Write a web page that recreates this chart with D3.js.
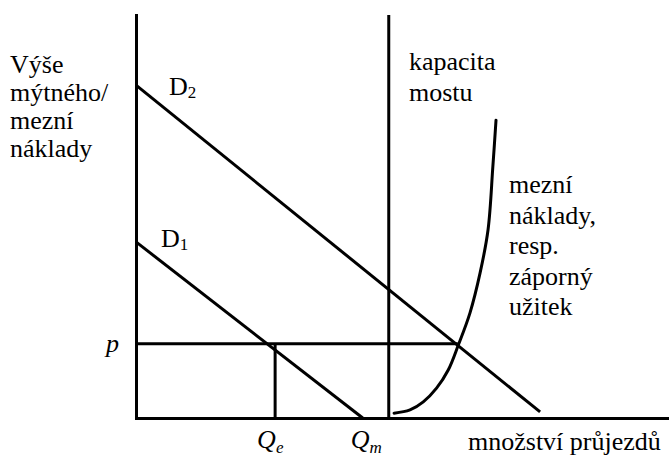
<!DOCTYPE html>
<html>
<head>
<meta charset="utf-8">
<script src="https://cdn.jsdelivr.net/npm/d3@7"></script>
</head>
<body style="margin:0">
<div class="svg-container"></div>
<script>
// data (units 0..100 on both axes)
const demand2 = [[0, 82.6], [76.1, 1.5]];
const demand1 = [[0, 43.7], [42.7, 0]];
const priceP = 18.4;
const priceLineEnd = 60.6;
const qE = 26.2;
const qM = 47.6;
const marginalCost = [
  [48.6, 1.2], [51.6, 2.0], [54.1, 4.0], [56.6, 7.4], [58.8, 11.9],
  [60.7, 18.1], [62.9, 26.1], [64.8, 36.0], [66.3, 46.7], [67.2, 62.3], [67.8, 73.9]
];
const yLabelLines = ['Výše', 'mýtného/', 'mezní', 'náklady'];
const capacityLines = ['kapacita', 'mostu'];
const costLines = ['mezní', 'náklady,', 'resp.', 'záporný', 'užitek'];
const xTitle = 'množství průjezdů';

const renderChart = () => {
  const width = 670;
  const height = 457;
  const lineW = 3;
  const fontSize = 26;

  const svg = d3.select('.svg-container')
    .append('svg')
    .attr('width', width)
    .attr('height', height);

  const x = d3.scaleLinear().domain([0, 100]).range([136, 667]);
  const y = d3.scaleLinear().domain([0, 100]).range([418, 15]);

  const line = d3.line().x(d => x(d[0])).y(d => y(d[1]));

  // axes (no ticks, only the lines; labels handled below)
  const xAxis = svg.append('g')
    .attr('transform', `translate(0,${y(0)})`)
    .call(d3.axisBottom(x).tickValues([]).tickSizeOuter(0));
  const yAxis = svg.append('g')
    .attr('transform', `translate(${x(0)},0)`)
    .call(d3.axisLeft(y).tickValues([]).tickSizeOuter(0));
  [xAxis, yAxis].forEach(a => a.select('.domain')
    .attr('stroke', '#000')
    .attr('stroke-width', lineW)
    .attr('stroke-linecap', 'square'));

  const plain = (sel) => sel
    .attr('fill', 'none')
    .attr('stroke', '#000')
    .attr('stroke-width', lineW);

  // capacity of the bridge
  svg.append('path').attr('d', line([[qM, 0], [qM, 100]])).call(plain);

  // demand curves
  svg.append('path').attr('d', line(demand2)).call(plain);
  svg.append('path').attr('d', line(demand1)).call(plain);

  // toll level p and equilibrium quantity
  svg.append('path').attr('d', line([[0, priceP], [priceLineEnd, priceP]])).call(plain);
  svg.append('path').attr('d', line([[qE, 0], [qE, priceP]])).call(plain);

  // marginal cost curve
  svg.append('path')
    .attr('d', d3.line().x(d => x(d[0])).y(d => y(d[1])).curve(d3.curveCatmullRom)(marginalCost))
    .call(plain)
    .attr('stroke-linecap', 'round');

  const txt = (tx, ty) => svg.append('text')
    .attr('x', tx).attr('y', ty)
    .attr('font-size', fontSize)
    .style('font-family', '"Liberation Serif"');

  // text blocks
  const block = (lines, tx, ty, lh) => {
    txt(tx, ty).selectAll('tspan').data(lines).enter().append('tspan')
      .attr('x', tx)
      .attr('dy', (d, i) => i === 0 ? 0 : lh)
      .text(d => d);
  };
  block(yLabelLines, 10, 73, 28);
  block(capacityLines, 409, 70, 31);
  block(costLines, 509, 193, 30.5);

  // labels with subscripts
  const subLabel = (main, sub, tx, ty, italic, drop) => {
    const t = txt(tx, ty);
    if (italic) t.attr('font-style', 'italic');
    t.append('tspan').text(main);
    t.append('tspan').attr('dy', drop).attr('font-size', 17).text(sub);
  };
  subLabel('D', '2', 169, 95, false, 3);
  subLabel('D', '1', 161, 247, false, 3);

  // tick labels
  txt(106, y(priceP) + 8).attr('font-style', 'italic').text('p');
  subLabel('Q', 'e', x(qE) - 18, 448, true, 5);
  subLabel('Q', 'm', x(qM) - 38, 448, true, 5);

  txt(468, 450).text(xTitle);
};

renderChart();
</script>
</body>
</html>
